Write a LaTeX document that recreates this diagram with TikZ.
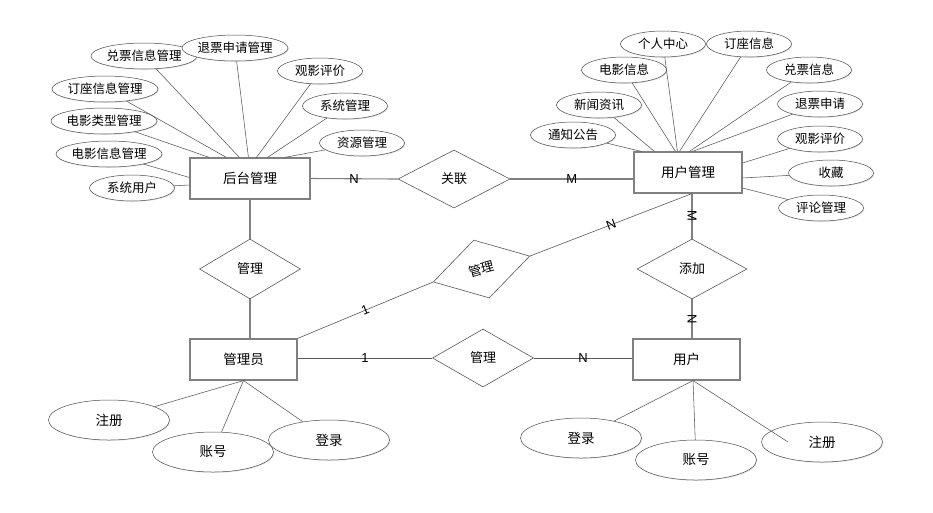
\documentclass[tikz,border=0pt]{standalone}
\usepackage{fontspec}
\setmainfont{Liberation Sans}
\newfontfamily\cjk{Noto Sans CJK SC}
\usetikzlibrary{shapes.geometric,shadows,calc}
\begin{document}
\begin{tikzpicture}[x=1pt,y=-1pt,
  ent/.style={draw=black!50,line width=1.1pt,fill=white,inner sep=0pt,
    drop shadow={shadow xshift=1.2pt,shadow yshift=-1.2pt,fill=black!30,opacity=0.5},
    font=\cjk\fontsize{13.5}{15}\selectfont},
  attr/.style={ellipse,draw=black!70,line width=0.5pt,fill=white,inner sep=0pt,
    minimum width=85pt,minimum height=26pt,
    drop shadow={shadow xshift=0.8pt,shadow yshift=-0.8pt,fill=black!25,opacity=0.5},
    font=\cjk\fontsize{12.5}{14}\selectfont},
  battr/.style={attr,minimum width=121pt,minimum height=40pt,font=\cjk\fontsize{13.5}{15}\selectfont},
  rel/.style={diamond,draw=black!65,line width=0.6pt,fill=white,inner sep=0pt,
    font=\cjk\fontsize{13}{15}\selectfont},
  link/.style={draw=black!50,line width=1.1pt},
  thin/.style={draw=black!65,line width=0.6pt},
  aline/.style={draw=black!65,line width=0.55pt},
  card/.style={font=\fontsize{13}{15}\selectfont,inner sep=0pt}]
\useasboundingbox[fill=white] (0,0) rectangle (933,512);

% entities
\node[ent,minimum width=120pt,minimum height=41pt] (ht) at (250,178.5) {后台管理};
\node[ent,minimum width=108pt,minimum height=41pt] (um) at (688,172.5) {用户管理};
\node[ent,minimum width=107pt,minimum height=41pt] (gly) at (243.5,359.5) {管理员};
\node[ent,minimum width=107pt,minimum height=41pt] (yh) at (686.5,359.5) {用户};

% relationships
\node[rel,minimum width=112pt,minimum height=58pt] (rl) at (454,179) {关联};
\node[rel,minimum width=101pt,minimum height=60pt] (mg1) at (250,269) {管理};
\node[rel,rotate=15,minimum width=100pt,minimum height=60pt] (mg2) at (481.5,269) {管理};
\node[rel,minimum width=110pt,minimum height=60pt] (add) at (692,269) {添加};
\node[rel,minimum width=101pt,minimum height=58pt] (mg3) at (483,358) {管理};

% attributes of 后台管理
\node[attr] (a1) at (144,56) {兑票信息管理};
\node[attr] (a2) at (235,48) {退票申请管理};
\node[attr] (a3) at (320,71) {观影评价};
\node[attr] (a4) at (345,106) {系统管理};
\node[attr] (a5) at (362,143) {资源管理};
\node[attr] (a6) at (105,89) {订座信息管理};
\node[attr] (a7) at (104,121) {电影类型管理};
\node[attr] (a8) at (109,154) {电影信息管理};
\node[attr] (a9) at (132,188) {系统用户};

% attributes of 用户管理
\node[attr] (b1) at (663,44) {个人中心};
\node[attr] (b2) at (749,44) {订座信息};
\node[attr] (b3) at (624,70) {电影信息};
\node[attr] (b4) at (809,70) {兑票信息};
\node[attr] (b5) at (599,105) {新闻资讯};
\node[attr] (b6) at (573,135) {通知公告};
\node[attr] (b7) at (820,104) {退票申请};
\node[attr] (b8) at (820,139) {观影评价};
\node[attr] (b9) at (831,173) {收藏};
\node[attr] (b10) at (821,208) {评论管理};

% attributes of 管理员 / 用户
\node[battr] (c1) at (109,420) {注册};
\node[battr] (c2) at (213,452) {账号};
\node[battr] (c3) at (329,440) {登录};
\node[battr] (d1) at (581,438) {登录};
\node[battr] (d2) at (696,460) {账号};
\node[battr] (d3) at (822,442) {注册};

% attribute lines
\draw[aline] (a7) -- ([xshift=20pt]ht.north west);
\draw[aline] (a6) -- ([xshift=37pt]ht.north west);
\draw[aline] (a1) -- ([xshift=50pt]ht.north west);
\draw[aline] (a2) -- ([xshift=59pt]ht.north west);
\draw[aline] (a3) -- ([xshift=67pt]ht.north west);
\draw[aline] (a4) -- ([xshift=78pt]ht.north west);
\draw[aline] (a5) -- ([xshift=95pt]ht.north west);
\draw[aline] (a8) -- ([yshift=1pt]ht.west);
\draw[aline] (a9) -- ([yshift=-6.5pt]ht.west);

\draw[aline] (b6) -- ([xshift=8pt]um.north west);
\draw[aline] (b5) -- ([xshift=21pt]um.north west);
\draw[aline] (b3) -- ([xshift=42pt]um.north west);
\draw[aline] (b1) -- ([xshift=44pt]um.north west);
\draw[aline] (b2) -- ([xshift=46pt]um.north west);
\draw[aline] (b4) -- ([xshift=56pt]um.north west);
\draw[aline] (b7) -- ([xshift=59pt]um.north west);
\draw[aline] (b8) -- ([yshift=9.5pt]um.east);
\draw[aline] (b9) -- ([yshift=-5.5pt]um.east);
\draw[aline] (b10) -- ([yshift=-15.5pt]um.east);

\draw[aline] (c1) -- (gly.south);
\draw[aline] (c2) -- (gly.south);
\draw[aline] (c3) -- (gly.south);
\draw[aline] (d1) -- ([xshift=6.5pt]yh.south);
\draw[aline] (d2) -- ([xshift=6.5pt]yh.south);
\draw[aline] ([xshift=6.5pt]yh.south) -- ([xshift=-34pt]d3.center);

% relationship lines
\draw[link] (ht.east) -- node[card]{N} (rl.west);
\draw[link] (rl.east) -- node[card]{M} (rl.east -| um.west);
\draw[link] (ht.south) -- (mg1.north);
\draw[link] (mg1.south) -- (mg1.south |- gly.north);
\draw[thin] (mg3.west -| gly.east) -- node[card]{1} (mg3.west);
\draw[thin] (mg3.east) -- node[card]{N} (mg3.east -| yh.west);
\draw[thin] (gly.north east) -- node[card,sloped]{1} (mg2.west);
\draw[thin] (mg2.east) -- node[card,sloped]{N} ([xshift=4pt]um.south);
\draw[link] ([xshift=4pt]um.south) -- node[card,rotate=-90]{M} (add.north);
\draw[link] (add.south) -- node[card,rotate=-90]{N} ([xshift=5.5pt]yh.north);
\end{tikzpicture}
\end{document}
